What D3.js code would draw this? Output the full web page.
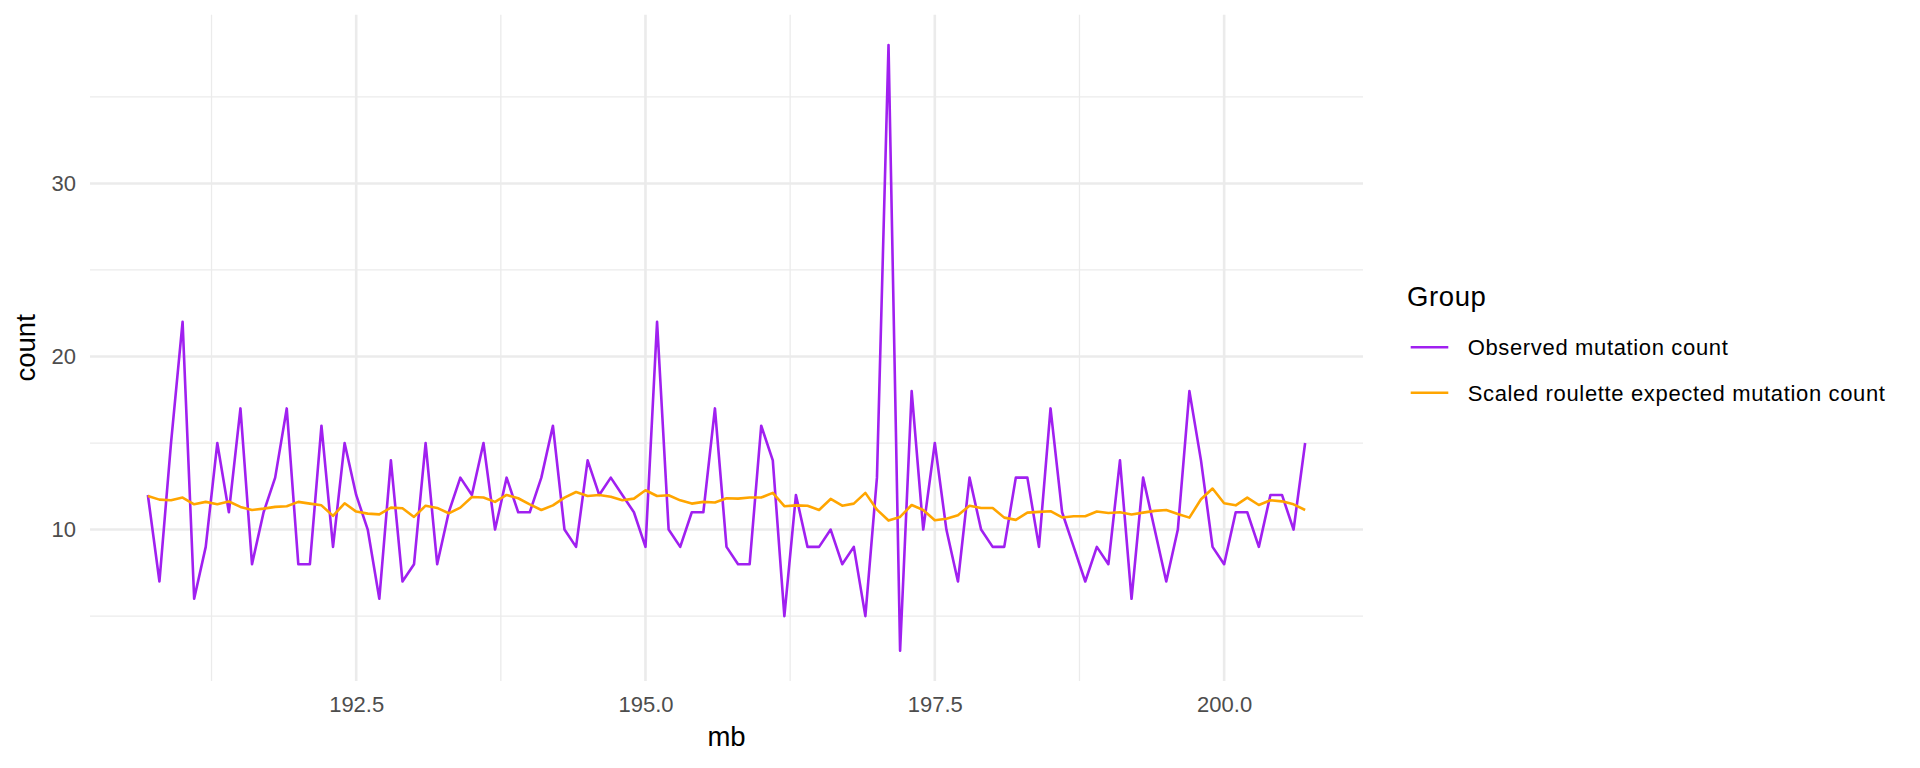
<!DOCTYPE html>
<html>
<head>
<meta charset="utf-8">
<script src="https://cdn.jsdelivr.net/npm/d3@7"></script>
<style>
  body { margin: 0; background: #fff; }
  text { font-family: "Liberation Sans", Arial, Helvetica, sans-serif; }
</style>
</head>
<body>
<script>
//position along chromosome (mb)
var mb = [190.7, 190.8, 190.9, 191.0, 191.1, 191.2, 191.3, 191.4, 191.5, 191.6,
          191.7, 191.8, 191.9, 192.0, 192.1, 192.2, 192.3, 192.4, 192.5, 192.6,
          192.7, 192.8, 192.9, 193.0, 193.1, 193.2, 193.3, 193.4, 193.5, 193.6,
          193.7, 193.8, 193.9, 194.0, 194.1, 194.2, 194.3, 194.4, 194.5, 194.6,
          194.7, 194.8, 194.9, 195.0, 195.1, 195.2, 195.3, 195.4, 195.5, 195.6,
          195.7, 195.8, 195.9, 196.0, 196.1, 196.2, 196.3, 196.4, 196.5, 196.6,
          196.7, 196.8, 196.9, 197.0, 197.1, 197.2, 197.3, 197.4, 197.5, 197.6,
          197.7, 197.8, 197.9, 198.0, 198.1, 198.2, 198.3, 198.4, 198.5, 198.6,
          198.7, 198.8, 198.9, 199.0, 199.1, 199.2, 199.3, 199.4, 199.5, 199.6,
          199.7, 199.8, 199.9, 200.0, 200.1, 200.2, 200.3, 200.4, 200.5, 200.6,
          200.7];

//observed mutation count per bin
var observed = [12, 7, 15, 22, 6, 9, 15, 11, 17, 8,
                11, 13, 17, 8, 8, 16, 9, 15, 12, 10,
                6, 14, 7, 8, 15, 8, 11, 13, 12, 15,
                10, 13, 11, 11, 13, 16, 10, 9, 14, 12,
                13, 12, 11, 9, 22, 10, 9, 11, 11, 17,
                9, 8, 8, 16, 14, 5, 12, 9, 9, 10,
                8, 9, 5, 13, 38, 3, 18, 10, 15, 10,
                7, 13, 10, 9, 9, 13, 13, 9, 17, 11,
                9, 7, 9, 8, 14, 6, 13, 10, 7, 10,
                18, 14, 9, 8, 11, 11, 9, 12, 12, 10,
                15];

//scaled roulette expected count per bin
var expected = [11.94, 11.73, 11.69, 11.85, 11.46, 11.60, 11.46, 11.62, 11.31, 11.13,
                11.21, 11.31, 11.35, 11.60, 11.50, 11.40, 10.79, 11.52, 11.04, 10.92,
                10.88, 11.27, 11.23, 10.73, 11.38, 11.25, 10.94, 11.27, 11.88, 11.85,
                11.60, 12.00, 11.81, 11.46, 11.13, 11.40, 11.85, 12.17, 11.94, 12.00,
                11.90, 11.69, 11.79, 12.27, 11.94, 11.98, 11.69, 11.50, 11.60, 11.56,
                11.81, 11.79, 11.85, 11.85, 12.12, 11.35, 11.40, 11.38, 11.13, 11.77,
                11.38, 11.50, 12.12, 11.15, 10.52, 10.73, 11.42, 11.13, 10.54, 10.63,
                10.83, 11.38, 11.25, 11.25, 10.69, 10.56, 10.98, 11.02, 11.06, 10.70,
                10.77, 10.77, 11.04, 10.96, 11.00, 10.87, 10.98, 11.08, 11.13, 10.90,
                10.69, 11.75, 12.37, 11.52, 11.40, 11.85, 11.42, 11.69, 11.63, 11.46,
                11.13];

var groups = ["Observed mutation count", "Scaled roulette expected mutation count"];
var groupColors = ["#A020F0", "#FFA500"];

var xTicks = [192.5, 195.0, 197.5, 200.0],
    xMinor = [191.25, 193.75, 196.25, 198.75],
    yTicks = [10, 20, 30],
    yMinor = [5, 15, 25, 35];

//frame
var width = 1920,
    height = 768;
var panel = {left: 90, right: 1363, top: 14.7, bottom: 681};

var svg = d3.select("body")
    .append("svg")
    .attr("width", width)
    .attr("height", height);

//ggplot style expanded domains (5% each side)
var xExt = d3.extent(mb),
    yExt = d3.extent(observed.concat(expected));
var xPad = (xExt[1] - xExt[0]) * 0.05,
    yPad = (yExt[1] - yExt[0]) * 0.05;

var x = d3.scaleLinear()
    .domain([xExt[0] - xPad, xExt[1] + xPad])
    .range([panel.left, panel.right]);

var y = d3.scaleLinear()
    .domain([yExt[0] - yPad, yExt[1] + yPad])
    .range([panel.bottom, panel.top]);

//grid lines
var grid = svg.append("g").attr("class", "grid");

grid.selectAll(".ymin")
    .data(yMinor)
    .enter()
    .append("line")
    .attr("x1", panel.left).attr("x2", panel.right)
    .attr("y1", function(d){ return y(d); })
    .attr("y2", function(d){ return y(d); })
    .attr("stroke", "#EBEBEB")
    .attr("stroke-width", 1.3);

grid.selectAll(".xmin")
    .data(xMinor)
    .enter()
    .append("line")
    .attr("y1", panel.top).attr("y2", panel.bottom)
    .attr("x1", function(d){ return x(d); })
    .attr("x2", function(d){ return x(d); })
    .attr("stroke", "#EBEBEB")
    .attr("stroke-width", 1.3);

grid.selectAll(".ymaj")
    .data(yTicks)
    .enter()
    .append("line")
    .attr("x1", panel.left).attr("x2", panel.right)
    .attr("y1", function(d){ return y(d); })
    .attr("y2", function(d){ return y(d); })
    .attr("stroke", "#EBEBEB")
    .attr("stroke-width", 2.6);

grid.selectAll(".xmaj")
    .data(xTicks)
    .enter()
    .append("line")
    .attr("y1", panel.top).attr("y2", panel.bottom)
    .attr("x1", function(d){ return x(d); })
    .attr("x2", function(d){ return x(d); })
    .attr("stroke", "#EBEBEB")
    .attr("stroke-width", 2.6);

//series lines
var series = [observed, expected];
var line = d3.line()
    .x(function(d, i){ return x(mb[i]); })
    .y(function(d){ return y(d); });

svg.selectAll(".series")
    .data(series)
    .enter()
    .append("path")
    .attr("class", "series")
    .attr("d", line)
    .attr("fill", "none")
    .attr("stroke", function(d, i){ return groupColors[i]; })
    .attr("stroke-width", 2.6)
    .attr("stroke-linejoin", "round");

//axes (labels only, like theme_minimal)
var xAxis = svg.append("g")
    .attr("transform", "translate(0," + panel.bottom + ")")
    .call(d3.axisBottom(x).tickValues(xTicks).tickFormat(d3.format(".1f")).tickSize(0).tickPadding(15));

var yAxis = svg.append("g")
    .attr("transform", "translate(" + panel.left + ",0)")
    .call(d3.axisLeft(y).tickValues(yTicks).tickFormat(d3.format("d")).tickSize(0).tickPadding(14));

[xAxis, yAxis].forEach(function(a){
    a.select(".domain").remove();
    a.selectAll("text")
        .attr("fill", "#4D4D4D")
        .style("font-size", "22px")
        .style("font-family", "'Liberation Sans', Arial, sans-serif");
});

//axis titles
svg.append("text")
    .attr("x", (panel.left + panel.right) / 2)
    .attr("y", 746)
    .attr("text-anchor", "middle")
    .style("font-size", "27.5px")
    .text("mb");

svg.append("text")
    .attr("transform", "translate(35," + ((panel.top + panel.bottom) / 2) + ") rotate(-90)")
    .attr("text-anchor", "middle")
    .style("font-size", "27.5px")
    .text("count");

//legend
var legend = svg.append("g").attr("transform", "translate(1407,0)");

legend.append("text")
    .attr("x", 0)
    .attr("y", 306)
    .style("font-size", "27.5px")
    .style("letter-spacing", "0.6px")
    .text("Group");

var keyY = [347.3, 392.7];
var items = legend.selectAll(".item")
    .data(groups)
    .enter()
    .append("g")
    .attr("transform", function(d, i){ return "translate(0," + keyY[i] + ")"; });

items.append("line")
    .attr("x1", 3.7).attr("x2", 41.3)
    .attr("y1", 0).attr("y2", 0)
    .attr("stroke", function(d, i){ return groupColors[i]; })
    .attr("stroke-width", 2.6);

items.append("text")
    .attr("x", 60.7)
    .attr("y", 0)
    .attr("dy", "0.36em")
    .style("font-size", "22px")
    .style("letter-spacing", "0.65px")
    .text(function(d){ return d; });
</script>
</body>
</html>
